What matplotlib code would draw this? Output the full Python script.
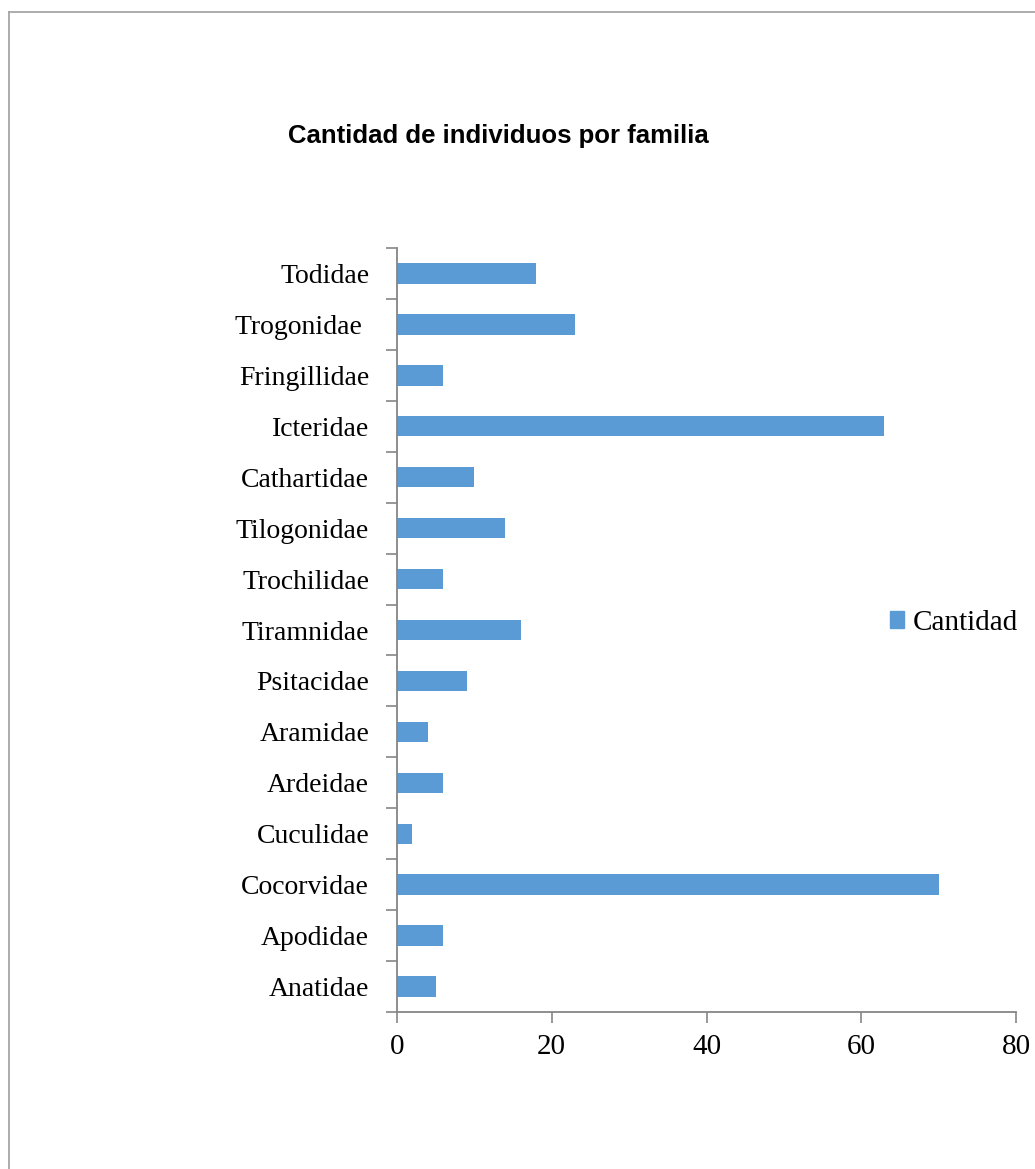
import matplotlib

matplotlib.use("Agg")
import matplotlib.pyplot as plt
from matplotlib.lines import Line2D
from matplotlib.patches import Patch

BAR = "#5B9BD5"
AXIS = "#868686"
FRAME = "#A6A6A6"

# bottom to top, as drawn on the y axis
familias = [
    "Anatidae", "Apodidae", "Cocorvidae", "Cuculidae", "Ardeidae",
    "Aramidae", "Psitacidae", "Tiramnidae", "Trochilidae", "Tilogonidae",
    "Cathartidae", "Icteridae", "Fringillidae", "Trogonidae ", "Todidae",
]
cantidad = [5, 6, 70, 2, 6, 4, 9, 16, 6, 14, 10, 63, 6, 23, 18]
x_ticks = [0, 20, 40, 60, 80]

plt.rcParams["font.family"] = ["Liberation Serif", "DejaVu Serif"]

W, H = 1035, 1169
fig = plt.figure(figsize=(W / 100, H / 100), dpi=100)
fig.patch.set_facecolor("white")

# chart-area frame (top and left edges only, the rest runs off the page)
fig.add_artist(Line2D([9 / W, 1], [1 - 12 / H, 1 - 12 / H], color=FRAME, lw=1.3))
fig.add_artist(Line2D([9 / W, 9 / W], [0, 1 - 12 / H], color=FRAME, lw=1.3))

ax = fig.add_axes([397 / W, 1 - 1012 / H, 619 / W, 764 / H])
y = list(range(len(familias)))
ax.barh(y, cantidad, height=0.4, color=BAR, label="Cantidad")

ax.set_xlim(0, 80)
ax.set_ylim(-0.5, len(familias) - 0.5)
ax.set_xticks(x_ticks)
ax.set_xticklabels([str(v) for v in x_ticks], fontsize=21)

# category labels sit between the boundary ticks
ax.set_yticks(y)
ax.set_yticklabels(familias, fontsize=20)
ax.set_yticks([i - 0.5 for i in range(len(familias) + 1)], minor=True)
ax.tick_params(axis="y", which="major", length=0, pad=20)
ax.tick_params(axis="y", which="minor", length=8, width=1.2, color=AXIS)
ax.tick_params(axis="x", length=8, width=1.2, color=AXIS, pad=8)

for s in ("top", "right"):
    ax.spines[s].set_visible(False)
for s in ("left", "bottom"):
    ax.spines[s].set_color(AXIS)
    ax.spines[s].set_linewidth(1.3)

fig.text(498 / W, 1 - 136 / H, "Cantidad de individuos por familia",
         ha="center", va="center", fontsize=18.5, fontweight="bold",
         family=["Liberation Sans", "DejaVu Sans"])

fig.legend(handles=[Patch(color=BAR, label="Cantidad")],
           loc="center left", bbox_to_anchor=(878 / W, 1 - 623 / H),
           frameon=False, fontsize=21, handlelength=0.5, handleheight=0.5,
           handletextpad=0.3, borderaxespad=0)

fig.savefig("out.png", dpi=100)
